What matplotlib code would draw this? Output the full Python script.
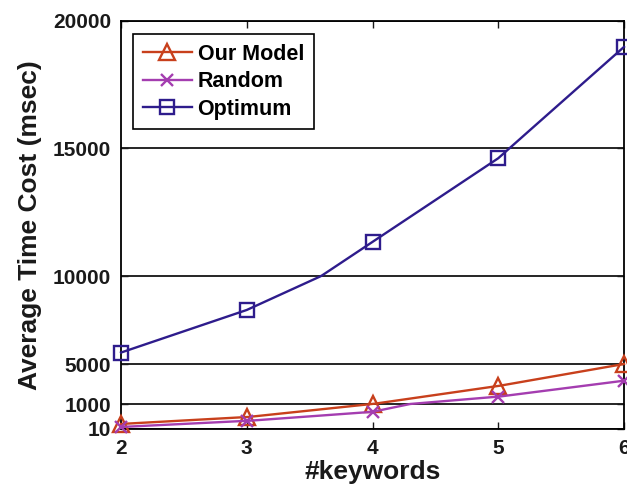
import numpy as np
import matplotlib
matplotlib.use("Agg")
import matplotlib.pyplot as plt
import matplotlib.transforms as mtransforms

plt.rcParams['font.family'] = ['Liberation Sans', 'DejaVu Sans']
plt.rcParams['font.weight'] = 'bold'

# ---- data ----
keywords = [2, 3, 4, 5, 6]
our_model = [210, 480, 1000, 2800, 5000]
random_sel = [90, 330, 690, 1730, 3330]
optimum = [5650, 8070, 11330, 14600, 18980]

series_names = ["Our Model", "Random", "Optimum"]
y_ticks = [10, 1000, 5000, 10000, 15000, 20000]

# ---- warped y-axis: each tick value sits at a fixed fraction of the height ----
tick_frac = [0.0, 25 / 408, 65 / 408, 153 / 408, 281 / 408, 1.0]


def warp_fwd(v):
    return np.interp(v, y_ticks, tick_frac)


def warp_inv(p):
    return np.interp(p, tick_frac, y_ticks)


class SegmentSampler(mtransforms.Transform):
    """Identity on points, but subdivides path segments so straight data
    segments follow the warped axis."""
    input_dims = output_dims = 2
    is_separable = False
    has_inverse = True

    def __init__(self, steps):
        super().__init__()
        self.steps = steps

    def transform_non_affine(self, values):
        return np.asarray(values, dtype=float)

    def transform_path_non_affine(self, path):
        return path.interpolated(self.steps)

    def inverted(self):
        return self


fig = plt.figure(figsize=(6.27, 4.88), dpi=100)
ax = fig.add_axes([121 / 627, 1 - 429 / 488, 503 / 627, 408 / 488])
ax.set_yscale('function', functions=(warp_fwd, warp_inv))
ax.set_xlim(2, 6)
ax.set_ylim(10, 20000)

colors = ["#C8401C", "#A43DB0", "#2E1C8C"]
markers = ["^", "x", "s"]
msizes = [12, 9, 10]
values = [our_model, random_sel, optimum]

for name, vals, c, m, ms in zip(series_names, values, colors, markers, msizes):
    ax.plot(keywords, vals, color=c, marker=m, markersize=ms,
            markerfacecolor='none', markeredgecolor=c, markeredgewidth=1.7,
            linewidth=1.7, label=name, clip_on=False, zorder=3,
            transform=SegmentSampler(60) + ax.transData)

ax.set_xticks(keywords)
ax.set_xticklabels([str(k) for k in keywords])
ax.set_yticks(y_ticks)
ax.set_yticklabels([str(v) for v in y_ticks])
ax.yaxis.grid(True, color='black', linewidth=1.2)
ax.xaxis.grid(False)
ax.set_axisbelow(True)

ax.tick_params(axis='both', direction='in', length=5, width=1,
               top=True, right=True, labelsize=15, colors='#1a1a1a', pad=7)
for lab in ax.get_xticklabels() + ax.get_yticklabels():
    lab.set_fontweight('bold')
for sp in ax.spines.values():
    sp.set_linewidth(1.3)
    sp.set_color('black')

ax.set_xlabel("#keywords", fontsize=19, fontweight='bold', labelpad=2,
              color='#1a1a1a')
ax.set_ylabel("Average Time Cost (msec)", fontsize=19, fontweight='bold',
              labelpad=8, color='#1a1a1a')

leg = ax.legend(loc='upper left',
                bbox_to_anchor=(12 / 503, 1 - 13 / 408),
                borderaxespad=0, frameon=True, fancybox=False,
                edgecolor='black', framealpha=1, fontsize=15.5,
                handlelength=2.3, labelspacing=0.3, handletextpad=0.25,
                borderpad=0.45)
leg.get_frame().set_linewidth(1.2)
for t in leg.get_texts():
    t.set_fontweight('bold')

fig.savefig("out.png", dpi=100)
